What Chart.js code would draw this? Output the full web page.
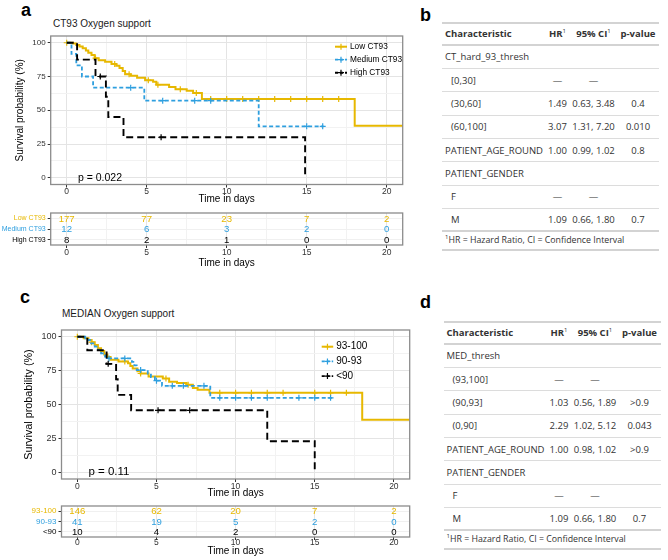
<!DOCTYPE html>
<html>
<head>
<meta charset="utf-8">
<title>Survie et support en oxygène</title>
<script src="https://cdn.jsdelivr.net/npm/chart.js@4.4.1/dist/chart.umd.min.js"></script>
<style>
  html, body { margin: 0; padding: 0; background: #fff; }
  body { position: relative; width: 668px; height: 560px; overflow: hidden; font-family: 'Liberation Sans', Arial, sans-serif; }
  canvas { position: absolute; }
  .lettre { position: absolute; font-weight: bold; font-size: 18px; line-height: 1; color: #000; }
  .titre { position: absolute; font-size: 10px; line-height: 1; color: #1a1a1a; white-space: nowrap; }
  .tab { position: absolute; width: 217px; font-family: 'Open Sans', sans-serif; font-size: 9.5px; color: #333; border-top: 2px solid #d3d3d3; }
  .tab .row { display: flex; align-items: center; box-sizing: border-box; height: 23.33px; border-bottom: 1px solid #dcdcdc; white-space: nowrap; }
  .tab .head { height: 21.7px; border-bottom: 2px solid #d3d3d3; font-weight: bold; }
  .tab .last { border-bottom: 2px solid #d3d3d3; }
  .tab .foot { height: 18.3px; border-bottom: 2px solid #d3d3d3; font-size: 8.8px; padding-left: 3px; }
  .c1 { width: 103px; padding-left: 3px; box-sizing: border-box; }
  .c1.ind { padding-left: 9px; }
  .c2 { width: 25px; text-align: center; }
  .c3 { width: 47px; text-align: center; }
  .c4 { width: 42px; text-align: center; }
  sup { font-size: 6px; font-weight: normal; vertical-align: 4px; line-height: 0; }
</style>
</head>
<body>
<div class="lettre" style="left:21px; top:1px;">a</div>
<div class="titre" style="left:53px; top:19px;">CT93 Oxygen support</div>
<div class="lettre" style="left:420px; top:6px;">b</div>
<div class="lettre" style="left:20px; top:288px;">c</div>
<div class="titre" style="left:62px; top:309px;">MEDIAN Oxygen support</div>
<div class="lettre" style="left:420px; top:293px;">d</div>

<canvas id="kmA" width="410" height="212" style="left:0; top:0;"></canvas>
<canvas id="riskA" width="410" height="64" style="left:0; top:206px;"></canvas>
<canvas id="kmC" width="420" height="215" style="left:0; top:290px;"></canvas>
<canvas id="riskC" width="420" height="62" style="left:0; top:498px;"></canvas>

<div class="tab" id="tabB" style="left:442px; top:22px;"></div>
<div class="tab" id="tabD" style="left:443.5px; top:321px;"></div>

<script>
//Graduations communes
const timeTicks = [0, 2.5, 5, 7.5, 10, 12.5, 15, 17.5, 20];
const survTicks = [0, 12.5, 25, 37.5, 50, 62.5, 75, 87.5, 100];
const riskTimes = [0, 5, 10, 15, 20];

//Panneau a : CT93
const labelsA = ['Low CT93', 'Medium CT93', 'High CT93'];
const timeLowA = [0, 0.4, 0.6, 0.8, 1.0, 1.2, 1.35, 1.55, 1.75, 2.0, 2.4, 2.8, 3.1, 3.3, 3.5, 3.65, 4.0, 4.4, 4.9, 5.4, 5.6, 6.4, 6.8, 7.5, 7.9, 8.45, 18, 22];
const survLowA = [100, 99.4, 98.3, 97.2, 96, 94.3, 92.6, 90.9, 88.6, 87, 85.9, 84.2, 83, 81.3, 79, 76.7, 75.6, 74, 72.3, 71.2, 68.9, 67.2, 65.5, 64.4, 62.7, 58.3, 38.5, 38.5];
const censLowA = [0, 1.8, 3.0, 3.9, 5.1, 5.7, 7.1, 8.1, 9, 10, 11, 12, 13, 14, 15, 16, 17];
const timeMedA = [0, 0.3, 0.6, 0.95, 1.65, 4.85, 12.0, 16.05];
const survMedA = [100, 91.7, 83.3, 75, 66.7, 57.1, 38.1, 38.1];
const censMedA = [4.0, 6.0, 8.0, 9.0, 15.0, 16.0];
const timeHighA = [0, 0.65, 1.8, 2.45, 2.6, 3.55, 14.9];
const survHighA = [100, 87.5, 75, 60, 45, 30, 0];
const censHighA = [2.1, 5.9];
const riskLowA = [177, 77, 23, 7, 2];
const riskMedA = [12, 6, 3, 2, 0];
const riskHighA = [8, 2, 1, 0, 0];
const pValA = 'p = 0.022';

//Panneau c : MEDIAN
const labelsC = ['93-100', '90-93', '<90'];
const timeHiC = [0, 0.4, 0.7, 0.9, 1.1, 1.3, 1.5, 1.7, 1.9, 2.1, 2.6, 3.2, 3.35, 3.5, 3.8, 4.0, 4.5, 5.4, 5.8, 6.3, 6.9, 7.3, 7.6, 8.35, 18, 22];
const survHiC = [100, 99, 97.6, 96, 94, 91.5, 89.5, 87, 85, 83, 81.8, 80.5, 78.5, 76.6, 74.5, 72.9, 70.6, 69.2, 66.8, 65.8, 64.5, 62.2, 60.8, 58.6, 38.8, 38.8];
const censHiC = [0, 0.9, 3.0, 4.0, 5.6, 7.0, 9, 10, 11, 12, 13, 15, 16, 17];
const timeMidC = [0, 0.5, 0.8, 1.1, 1.3, 1.5, 1.75, 1.9, 3.45, 3.6, 3.75, 4.45, 4.65, 4.9, 5.35, 8.4, 16.1];
const survMidC = [100, 97.6, 95.1, 92.7, 90.2, 87.8, 85.4, 84.0, 81.5, 78.9, 75.4, 72.8, 70.2, 67.6, 63.8, 54.9, 54.9];
const censMidC = [2.0, 3.0, 4.0, 5.0, 6.0, 6.7, 8.0, 9, 10, 11, 12, 14, 15, 16];
const timeLowC = [0, 0.63, 1.85, 2.45, 2.55, 3.4, 12.0, 15.0];
const survLowC = [100, 90, 80, 68.6, 57.1, 45.7, 22.9, 0];
const censLowC = [1.95, 5.1, 7.1];
const riskHiC = [146, 62, 20, 7, 2];
const riskMidC = [41, 19, 5, 2, 0];
const riskLowC = [10, 4, 2, 0, 0];
const pValC = 'p = 0.11';

//Tableaux des hazard ratios
const indentRows = [0, 1, 1, 1, 0, 0, 1, 1];
const charB = ['CT_hard_93_thresh', '[0,30]', '(30,60]', '(60,100]', 'PATIENT_AGE_ROUND', 'PATIENT_GENDER', 'F', 'M'];
const hrB = ['', '—', '1.49', '3.07', '1.00', '', '—', '1.09'];
const ciB = ['', '—', '0.63, 3.48', '1.31, 7.20', '0.99, 1.02', '', '—', '0.66, 1.80'];
const pB = ['', '', '0.4', '0.010', '0.8', '', '', '0.7'];
const charD = ['MED_thresh', '(93,100]', '(90,93]', '(0,90]', 'PATIENT_AGE_ROUND', 'PATIENT_GENDER', 'F', 'M'];
const hrD = ['', '—', '1.03', '2.29', '1.00', '', '—', '1.09'];
const ciD = ['', '—', '0.56, 1.89', '1.02, 5.12', '0.98, 1.02', '', '—', '0.66, 1.80'];
const pD = ['', '', '>0.9', '0.043', '>0.9', '', '', '0.7'];

//Styles des groupes
const colors = ['#E7B800', '#2E9FDF', '#000000'];
const dashes = [[], [4, 2.5], [7, 4]];
const widths = [2, 1.8, 1.9];

Chart.defaults.font.family = "'Liberation Sans', Arial, sans-serif";
Chart.defaults.color = '#333';

//valeur de la courbe en escalier au temps t (pour placer les censures)
function survAt(times, surv, t) {
    let s = surv[0];
    for (let i = 0; i < times.length; i++) {
        if (times[i] <= t) s = surv[i];
    }
    return s;
}

const isMajor = (c, step) => c.tick && c.tick.value % step === 0;

//cadre gris autour de la zone de tracé
const cadre = {
    id: 'cadre',
    afterDraw(chart) {
        const a = chart.chartArea, ctx = chart.ctx;
        ctx.save();
        ctx.strokeStyle = '#8c8c8c';
        ctx.lineWidth = 1.3;
        ctx.strokeRect(a.left, a.top, a.right - a.left, a.bottom - a.top);
        ctx.restore();
    }
};

//légende dans la zone de tracé
const legendeKM = {
    id: 'legendeKM',
    afterDatasetsDraw(chart, args, opts) {
        const a = chart.chartArea, ctx = chart.ctx;
        opts.labels.forEach((lab, i) => {
            const y = a.top + opts.y0 + i * opts.dy;
            const x0 = a.right - opts.dx;
            ctx.save();
            ctx.strokeStyle = colors[i];
            ctx.lineWidth = widths[i];
            ctx.setLineDash(i === 0 ? [] : [3, 2]);
            ctx.beginPath();
            ctx.moveTo(x0, y);
            ctx.lineTo(x0 + opts.len, y);
            ctx.stroke();
            ctx.setLineDash([]);
            ctx.lineWidth = 1.2;
            const xc = x0 + opts.len / 2;
            ctx.beginPath();
            ctx.moveTo(xc - 3, y); ctx.lineTo(xc + 3, y);
            ctx.moveTo(xc, y - 3); ctx.lineTo(xc, y + 3);
            ctx.stroke();
            ctx.fillStyle = '#000';
            ctx.font = opts.size + "px 'Liberation Sans', Arial, sans-serif";
            ctx.textBaseline = 'middle';
            ctx.fillText(lab, x0 + opts.len + 3, y);
            ctx.restore();
        });
    }
};

//valeur p placée avec les échelles
const valeurP = {
    id: 'valeurP',
    afterDatasetsDraw(chart, args, opts) {
        const ctx = chart.ctx;
        ctx.save();
        ctx.fillStyle = '#000';
        ctx.font = opts.size + "px 'Liberation Sans', Arial, sans-serif";
        ctx.textBaseline = 'middle';
        ctx.fillText(opts.text, chart.scales.x.getPixelForValue(opts.x), chart.scales.y.getPixelForValue(opts.y));
        ctx.restore();
    }
};

//effectifs à risque écrits sur les points
const effectifs = {
    id: 'effectifs',
    afterDatasetsDraw(chart) {
        const ctx = chart.ctx;
        chart.data.datasets.forEach((ds, i) => {
            const meta = chart.getDatasetMeta(i);
            ctx.save();
            ctx.fillStyle = ds.borderColor;
            ctx.font = "9.6px 'Liberation Sans', Arial, sans-serif";
            ctx.textAlign = 'center';
            ctx.textBaseline = 'middle';
            meta.data.forEach((pt, j) => ctx.fillText(ds.data[j].n, pt.x, pt.y + 0.6));
            ctx.restore();
        });
    }
};

//axe du temps
function timeAxis(height, tickPad, titlePad) {
    return {
        type: 'linear', min: -1, max: 21,
        afterBuildTicks: s => { s.ticks = timeTicks.map(v => ({ value: v })); },
        afterFit: s => { s.height = height; },
        border: { display: false },
        grid: {
            color: c => isMajor(c, 5) ? '#e4e4e4' : '#f2f2f2',
            tickColor: c => isMajor(c, 5) ? '#333' : 'rgba(0,0,0,0)',
            tickLength: 3
        },
        ticks: {
            autoSkip: false, maxRotation: 0, padding: tickPad,
            font: { size: 8.5, lineHeight: 1 }, color: '#333',
            callback: v => v % 5 === 0 ? v : ''
        },
        title: { display: true, text: 'Time in days', color: '#000', font: { size: 10 }, padding: { top: 0, bottom: titlePad } }
    };
}

//axe de la probabilité de survie
function survAxis(width, titlePad, tickSize, titleSize) {
    return {
        type: 'linear', min: -5, max: 105,
        afterBuildTicks: s => { s.ticks = survTicks.map(v => ({ value: v })); },
        afterFit: s => { s.width = width; },
        border: { display: false },
        grid: {
            color: c => isMajor(c, 25) ? '#e4e4e4' : '#f2f2f2',
            tickColor: c => isMajor(c, 25) ? '#333' : 'rgba(0,0,0,0)',
            tickLength: 3
        },
        ticks: { autoSkip: false, padding: 2, font: { size: tickSize }, color: '#333', callback: v => v % 25 === 0 ? v : '' },
        title: { display: true, text: 'Survival probability (%)', color: '#000', font: { size: titleSize }, padding: { top: titlePad, bottom: 0 } }
    };
}

//courbes de Kaplan-Meier + marques de censure
function kmDatasets(times, survs, cens) {
    const sets = [];
    times.forEach((t, k) => {
        sets.push({
            data: t.map((x, i) => ({ x: x, y: survs[k][i] })),
            showLine: true, stepped: true, fill: false,
            borderColor: colors[k], borderWidth: widths[k], borderDash: dashes[k],
            pointRadius: 0, order: 10 - k
        });
        sets.push({
            data: cens[k].map(x => ({ x: x, y: survAt(t, survs[k], x) })),
            showLine: false, pointStyle: 'cross', pointRadius: 3,
            pointBorderWidth: 1.2, borderColor: colors[k], backgroundColor: colors[k], order: 10 - k
        });
    });
    return sets;
}

function kmChart(id, sets, lay) {
    return new Chart(document.getElementById(id), {
        type: 'scatter',
        data: { datasets: sets },
        options: {
            responsive: false, animation: false, events: [],
            layout: { padding: { left: 0, top: lay.top, right: lay.right, bottom: 0 } },
            plugins: { legend: { display: false }, tooltip: { enabled: false }, legendeKM: lay.legend, valeurP: lay.pval },
            scales: {
                x: timeAxis(lay.xh, 0, lay.xTitlePad),
                y: survAxis(lay.yw, lay.yTitlePad, lay.yTick, lay.yTitle)
            }
        },
        plugins: [cadre, legendeKM, valeurP]
    });
}

function riskChart(id, labels, counts, lay) {
    const sets = counts.map((row, k) => ({
        data: riskTimes.map((t, j) => ({ x: t, y: labels[k], n: row[j] })),
        borderColor: colors[k], pointRadius: 0
    }));
    return new Chart(document.getElementById(id), {
        type: 'scatter',
        data: { datasets: sets },
        options: {
            responsive: false, animation: false, events: [],
            layout: { padding: { left: 0, top: lay.top, right: lay.right, bottom: 0 } },
            plugins: { legend: { display: false }, tooltip: { enabled: false } },
            scales: {
                x: timeAxis(lay.xh, lay.tickPad, lay.xTitlePad),
                y: {
                    type: 'category', labels: labels, offset: true,
                    afterFit: s => { s.width = lay.yw; },
                    border: { display: false },
                    grid: { color: '#f0f0f0', tickColor: '#333', tickLength: 3 },
                    ticks: { autoSkip: false, padding: 2, font: { size: lay.labelSize }, color: c => colors[c.index] }
                }
            }
        },
        plugins: [cadre, effectifs]
    });
}

//Panneau a
kmChart('kmA',
    kmDatasets([timeLowA, timeMedA, timeHighA], [survLowA, survMedA, survHighA], [censLowA, censMedA, censHighA]),
    {
        top: 36, right: 7.3, xh: 27.5, yw: 50.7, xTitlePad: 7, yTitlePad: 14, yTick: 8, yTitle: 10,
        legend: { labels: labelsA, y0: 10.7, dy: 13, dx: 67.7, len: 12, size: 8.3 },
        pval: { text: pValA, x: 0.7, y: 0, size: 10.5 }
    });
riskChart('riskA', labelsA, [riskLowA, riskMedA, riskHighA],
    { top: 7, right: 7.3, xh: 25, yw: 50.7, tickPad: 0, xTitlePad: 1, labelSize: 7 });

//Panneau c
kmChart('kmC',
    kmDatasets([timeHiC, timeMidC, timeLowC], [survHiC, survMidC, survLowC], [censHiC, censMidC, censLowC]),
    {
        top: 40, right: 10.3, xh: 26, yw: 61.5, xTitlePad: 5.7, yTitlePad: 22.5, yTick: 9, yTitle: 10.8,
        legend: { labels: labelsC, y0: 16.7, dy: 14.7, dx: 88, len: 11.5, size: 10 },
        pval: { text: pValC, x: 0.7, y: 0, size: 11.5 }
    });
riskChart('riskC', labelsC, [riskHiC, riskMidC, riskLowC],
    { top: 8, right: 10.3, xh: 23, yw: 61.5, tickPad: -1.5, xTitlePad: 2.3, labelSize: 8 });

//Tableaux b et d
function buildTable(el, chars, hr, ci, pv) {
    let html = '<div class="row head"><div class="c1">Characteristic</div><div class="c2">HR<sup>1</sup></div>' +
        '<div class="c3">95% CI<sup>1</sup></div><div class="c4">p-value</div></div>';
    chars.forEach((c, i) => {
        html += '<div class="row' + (i === chars.length - 1 ? ' last' : '') + '">' +
            '<div class="c1' + (indentRows[i] ? ' ind' : '') + '">' + c + '</div>' +
            '<div class="c2">' + hr[i] + '</div><div class="c3">' + ci[i] + '</div><div class="c4">' + pv[i].replace('>', '&gt;') + '</div></div>';
    });
    html += '<div class="row foot"><div><sup>1</sup>HR = Hazard Ratio, CI = Confidence Interval</div></div>';
    el.innerHTML = html;
}
buildTable(document.getElementById('tabB'), charB, hrB, ciB, pB);
buildTable(document.getElementById('tabD'), charD, hrD, ciD, pD);
</script>
</body>
</html>
